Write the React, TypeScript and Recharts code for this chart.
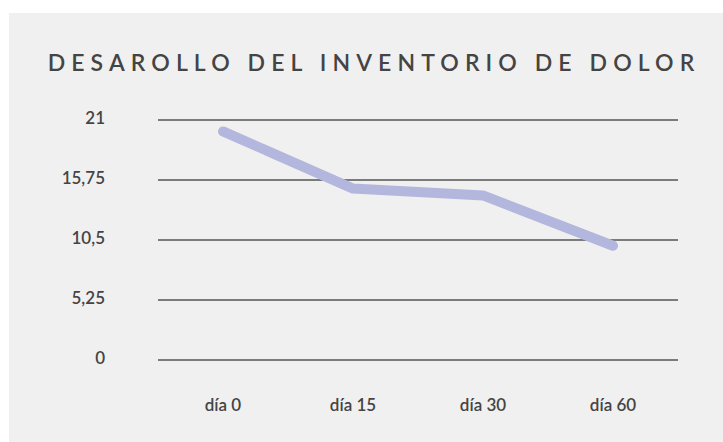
import { LineChart, Line, XAxis, YAxis, CartesianGrid } from "recharts";

// Desarrollo del inventario de dolor: una sola serie, cuatro mediciones.
const dias = ["día 0", "día 15", "día 30", "día 60"];
const dolor = [20, 15, 14.4, 10];
const yTicks = [0, 5.25, 10.5, 15.75, 21];

const data = dias.map((d, i) => ({ dia: d, valor: dolor[i] }));

const INK = "#444444";
const LAVANDA = "#b3b6dd";
const FONT = "Lato, 'Open Sans', sans-serif";

const fmt = (v: number) => String(v).replace(".", ",");

// ticks del eje Y alineados a la derecha, un poco por encima de la línea
// eslint-disable-next-line @typescript-eslint/no-explicit-any
const YTick = (props: any) => {
  const y = Number(props.y) || 0;
  return (
    <text
      x={96}
      y={y - 3}
      textAnchor="end"
      dominantBaseline="central"
      fill={INK}
      fontSize={17}
      fontFamily={FONT}
      fontWeight={600}
    >
      {fmt(props.payload.value)}
    </text>
  );
};

// eslint-disable-next-line @typescript-eslint/no-explicit-any
const XTick = (props: any) => {
  const x = Number(props.x) || 0;
  return (
    <text
      x={x}
      y={391}
      textAnchor="middle"
      dominantBaseline="central"
      fill={INK}
      fontSize={17}
      fontFamily={FONT}
      fontWeight={600}
    >
      {props.payload.value}
    </text>
  );
};

export default function App() {
  return (
    <div
      style={{
        position: "fixed",
        left: 9,
        top: 13,
        width: 714,
        height: 429,
        background: "#f0f0f0",
        overflow: "hidden",
      }}
    >
      <div
        style={{
          position: "absolute",
          left: 0,
          right: 0,
          top: 36,
          textAlign: "center",
          fontFamily: FONT,
          fontSize: 23,
          fontWeight: 600,
          letterSpacing: 6.1,
          color: INK,
          lineHeight: "26px",
          paddingLeft: 16,
        }}
      >
        DESAROLLO DEL INVENTORIO DE DOLOR
      </div>
      <LineChart
        width={714}
        height={429}
        data={data}
        margin={{ top: 107, right: 45, bottom: 52, left: 0 }}
      >
        <CartesianGrid vertical={false} stroke="#555555" strokeWidth={1.5} />
        <XAxis
          dataKey="dia"
          height={30}
          padding={{ left: 65, right: 65 }}
          axisLine={false}
          tickLine={false}
          tick={XTick}
          interval={0}
        />
        <YAxis
          width={149}
          domain={[0, 21]}
          ticks={yTicks}
          axisLine={false}
          tickLine={false}
          tick={YTick}
          interval={0}
        />
        <Line
          type="linear"
          dataKey="valor"
          stroke={LAVANDA}
          strokeWidth={10}
          strokeLinecap="round"
          strokeLinejoin="round"
          dot={false}
          activeDot={false}
          isAnimationActive={false}
        />
      </LineChart>
    </div>
  );
}
